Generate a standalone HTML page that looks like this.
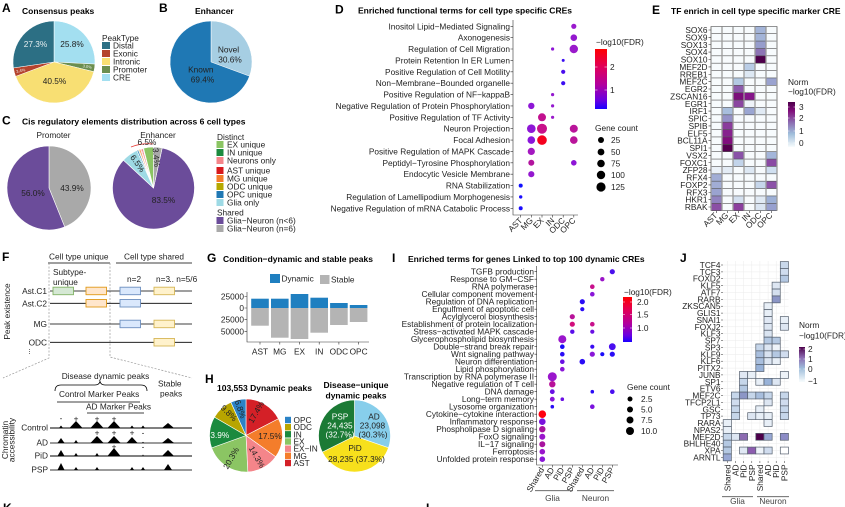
<!DOCTYPE html>
<html><head><meta charset="utf-8"><style>
html,body{margin:0;padding:0;background:#fff;}
svg{display:block}
text{font-family:"Liberation Sans",Arial,sans-serif;font-size:8.3px;fill:#222}
.t{font-weight:bold;font-size:8.5px;fill:#000}
.p{font-weight:bold;font-size:12px;fill:#000}
.e{text-anchor:end}
.m{text-anchor:middle}
.g{fill:#444}
.ax{stroke:#333;stroke-width:0.6;fill:none}
</style></head><body>
<svg width="845" height="507" viewBox="0 0 845 507" xmlns="http://www.w3.org/2000/svg">
<defs>
<linearGradient id="gD" x1="0" y1="0" x2="0" y2="1">
<stop offset="0" stop-color="#ff0000"/><stop offset="0.3" stop-color="#e0005a"/><stop offset="0.6" stop-color="#b0009f"/><stop offset="0.85" stop-color="#6a00e0"/><stop offset="1" stop-color="#1a00ff"/>
</linearGradient>
<linearGradient id="gE" x1="0" y1="0" x2="0" y2="1">
<stop offset="0" stop-color="#4d004b"/><stop offset="0.2" stop-color="#810f7c"/><stop offset="0.45" stop-color="#8c6bb1"/><stop offset="0.7" stop-color="#9ebcda"/><stop offset="1" stop-color="#f7fcfd"/>
</linearGradient>
<linearGradient id="gJ" x1="0" y1="0" x2="0" y2="1">
<stop offset="0" stop-color="#4d004b"/><stop offset="0.3" stop-color="#8c6bb1"/><stop offset="0.6" stop-color="#9ebcda"/><stop offset="1" stop-color="#f7fcfd"/>
</linearGradient>
</defs>

<!-- ===== Panel A ===== -->
<text class="p" x="2" y="12">A</text>
<text class="t" x="22" y="14">Consensus peaks</text>
<g stroke="#fff" stroke-width="0.5">
<path d="M54,62 L54,21 A41,41 0 0 1 94.95,64.07 Z" fill="#a3dff0"/>
<path d="M54,62 L94.95,64.07 A41,41 0 0 1 93.83,71.71 Z" fill="#6b8e4e"/>
<path d="M54,62 L93.83,71.71 A41,41 0 0 1 15.60,76.36 Z" fill="#f8df73"/>
<path d="M54,62 L15.60,76.36 A41,41 0 0 1 13.43,67.92 Z" fill="#b5432c"/>
<path d="M54,62 L13.43,67.92 A41,41 0 0 1 54,21 Z" fill="#2c6f84"/>
</g>
<text x="35.5" y="47" class="m" style="fill:#e6eef0">27.3%</text>
<text x="72" y="47" class="m">25.8%</text>
<text x="54.5" y="84" class="m">40.5%</text>
<text x="21" y="72" class="m" style="font-size:4px;fill:#eee" transform="rotate(-12 21 72)">3.4%</text>
<text x="87" y="68" class="m" style="font-size:4px;fill:#eee" transform="rotate(10 87 68)">3.0%</text>
<text x="102" y="41">PeakType</text>
<rect x="102" y="42" width="8" height="7" fill="#2c6f84"/><text x="113" y="48.5">Distal</text>
<rect x="102" y="50" width="8" height="7" fill="#b5432c"/><text x="113" y="56.5">Exonic</text>
<rect x="102" y="58" width="8" height="7" fill="#f8df73"/><text x="113" y="64.5">Intronic</text>
<rect x="102" y="66" width="8" height="7" fill="#6b8e4e"/><text x="113" y="72.5">Promoter</text>
<rect x="102" y="74" width="8" height="7" fill="#a3dff0"/><text x="113" y="80.5">CRE</text>

<!-- ===== Panel B ===== -->
<text class="p" x="159" y="12">B</text>
<text class="t" x="195" y="14">Enhancer</text>
<path d="M211,62 L211,21 A41,41 0 0 1 249.48,76.16 Z" fill="#a6cee3" stroke="#fff" stroke-width="0.5"/>
<path d="M211,62 L249.48,76.16 A41,41 0 1 1 211,21 Z" fill="#1f78b4" stroke="#fff" stroke-width="0.5"/>
<text x="228.5" y="52.3" class="m">Novel</text>
<text x="230" y="62.5" class="m">30.6%</text>
<text x="200.8" y="72.3" class="m">Known</text>
<text x="202.5" y="82.5" class="m">69.4%</text>

<!-- ===== Panel C ===== -->
<text class="p" x="2" y="124.5">C</text>
<text class="t" x="22" y="124.5">Cis regulatory elements distribution across 6 cell types</text>
<text x="53.5" y="138" class="m">Promoter</text>
<g stroke="#fff" stroke-width="0.6">
<path d="M49,188 L49,146 A42,42 0 0 1 64.71,226.95 Z" fill="#a9a9a9"/>
<path d="M49,188 L64.71,226.95 A42,42 0 1 1 49,146 Z" fill="#6b4c9a"/>
</g>
<text x="33" y="196" class="m">56.0%</text>
<text x="72" y="191" class="m">43.9%</text>
<text x="158" y="138" class="m">Enhancer</text>
<g stroke="#fff" stroke-width="0.6">
<path d="M153.5,188 L162.16,147.93 A41,41 0 1 1 123.42,160.14 Z" fill="#6b4c9a"/>
<path d="M153.5,188 L123.42,160.14 A41,41 0 0 1 136.95,150.49 Z" fill="#9edae5"/>
<path d="M153.5,188 L136.95,150.49 A41,41 0 0 1 138.27,149.93 Z" fill="#1f78b4"/>
<path d="M153.5,188 L138.27,149.93 A41,41 0 0 1 139.07,149.62 Z" fill="#b5a800"/>
<path d="M153.5,188 L139.07,149.62 A41,41 0 0 1 140.42,149.14 Z" fill="#f47d2b"/>
<path d="M153.5,188 L140.42,149.14 A41,41 0 0 1 141.24,148.88 Z" fill="#d7191c"/>
<path d="M153.5,188 L141.24,148.88 A41,41 0 0 1 142.89,148.40 Z" fill="#f4858a"/>
<path d="M153.5,188 L142.89,148.40 A41,41 0 0 1 143.58,148.22 Z" fill="#1b8a3e"/>
<path d="M153.5,188 L143.58,148.22 A41,41 0 0 1 153.5,147 Z" fill="#8bc563"/>
<path d="M153.5,188 L153.5,147 A41,41 0 0 1 162.16,147.93 Z" fill="#a9a9a9"/>
</g>
<path d="M131,147 A44,44 0 0 1 153,144" fill="none" stroke="#e8413c" stroke-width="0.8"/>
<text x="137.5" y="145">6.5%</text>
<text x="137" y="166" class="m" transform="rotate(55 137 164)">6.5%</text>
<text x="156" y="160" class="m" transform="rotate(85 156 157.5)">3.4%</text>
<text x="163.5" y="203" class="m">83.5%</text>
<text x="217" y="140">Distinct</text>
<rect x="216.5" y="141" width="7" height="7" fill="#8bc563"/><text x="227" y="147.3">EX unique</text>
<rect x="216.5" y="149" width="7" height="7" fill="#1b8a3e"/><text x="227" y="155.5">IN unique</text>
<rect x="216.5" y="157" width="7" height="7" fill="#f4858a"/><text x="227" y="163.5">Neurons only</text>
<rect x="216.5" y="167" width="7" height="7" fill="#d7191c"/><text x="227" y="173.5">AST unique</text>
<rect x="216.5" y="175" width="7" height="7" fill="#f47d2b"/><text x="227" y="181.5">MG unique</text>
<rect x="216.5" y="183" width="7" height="7" fill="#b5a800"/><text x="227" y="189.5">ODC unique</text>
<rect x="216.5" y="191" width="7" height="7" fill="#1f78b4"/><text x="227" y="197.5">OPC unique</text>
<rect x="216.5" y="199" width="7" height="7" fill="#9edae5"/><text x="227" y="205.5">Glia only</text>
<text x="217" y="215.7">Shared</text>
<rect x="216.5" y="217" width="7" height="7" fill="#6b4c9a"/><text x="227" y="223.5">Glia−Neuron (n&lt;6)</text>
<rect x="216.5" y="225" width="7" height="7" fill="#a9a9a9"/><text x="227" y="231.5">Glia−Neuron (n=6)</text>

<!-- ===== Panel D ===== -->
<text class="p" x="335" y="13.5">D</text>
<text class="t" x="358" y="13.5">Enriched functional terms for cell type specific CREs</text>
<g class="g">
<text class="e" x="510" y="29.3">Inositol Lipid−Mediated Signaling</text>
<text class="e" x="510" y="40.7">Axonogenesis</text>
<text class="e" x="510" y="52">Regulation of Cell Migration</text>
<text class="e" x="510" y="63.4">Protein Retention In ER Lumen</text>
<text class="e" x="510" y="74.8">Positive Regulation of Cell Motility</text>
<text class="e" x="510" y="86.2">Non−Membrane−Bounded organelle</text>
<text class="e" x="510" y="97.6">Positive Regulation of NF−kappaB</text>
<text class="e" x="510" y="108.9">Negative Regulation of Protein Phosphorylation</text>
<text class="e" x="510" y="120.3">Positive Regulation of TF Activity</text>
<text class="e" x="510" y="131.7">Neuron Projection</text>
<text class="e" x="510" y="143.1">Focal Adhesion</text>
<text class="e" x="510" y="154.4">Positive Regulation of MAPK Cascade</text>
<text class="e" x="510" y="165.8">Peptidyl−Tyrosine Phosphorylation</text>
<text class="e" x="510" y="177.2">Endocytic Vesicle Membrane</text>
<text class="e" x="510" y="188.6">RNA Stabilization</text>
<text class="e" x="510" y="199.9">Regulation of Lamellipodium Morphogenesis</text>
<text class="e" x="510" y="211.3">Negative Regulation of mRNA Catabolic Process</text>
</g>
<path class="ax" d="M513,20 V215 H578 M510.5,26.3H513 M510.5,37.7H513 M510.5,49H513 M510.5,60.4H513 M510.5,71.8H513 M510.5,83.2H513 M510.5,94.6H513 M510.5,105.9H513 M510.5,117.3H513 M510.5,128.7H513 M510.5,140.1H513 M510.5,151.4H513 M510.5,162.8H513 M510.5,174.2H513 M510.5,185.6H513 M510.5,196.9H513 M510.5,208.3H513 M520.7,215V217.5 M531.3,215V217.5 M542,215V217.5 M552.6,215V217.5 M563.2,215V217.5 M573.8,215V217.5"/>
<g class="g">
<text class="e" x="523" y="221" transform="rotate(-45 523 221)">AST</text>
<text class="e" x="533.6" y="221" transform="rotate(-45 533.6 221)">MG</text>
<text class="e" x="544.3" y="221" transform="rotate(-45 544.3 221)">EX</text>
<text class="e" x="554.9" y="221" transform="rotate(-45 554.9 221)">IN</text>
<text class="e" x="565.5" y="221" transform="rotate(-45 565.5 221)">ODC</text>
<text class="e" x="576.1" y="221" transform="rotate(-45 576.1 221)">OPC</text>
</g>
<circle cx="573.8" cy="26.3" r="2.6" fill="#9a1acd"/>
<circle cx="573.8" cy="37.7" r="3.3" fill="#9418cf"/>
<circle cx="552.6" cy="49" r="1.6" fill="#8e16d6"/>
<circle cx="573.8" cy="49" r="4.2" fill="#9a1acb"/>
<circle cx="563.2" cy="60.4" r="1.5" fill="#3a0df2"/>
<circle cx="563.2" cy="71.8" r="2.1" fill="#4a0ded"/>
<circle cx="563.2" cy="83.2" r="2.1" fill="#3c0df2"/>
<circle cx="552.6" cy="94.6" r="1.6" fill="#9418cf"/>
<circle cx="531.3" cy="105.9" r="3.2" fill="#8e16d6"/>
<circle cx="552.6" cy="105.9" r="1.6" fill="#9418cf"/>
<circle cx="542" cy="117.3" r="4" fill="#c2108f"/>
<circle cx="552.6" cy="117.3" r="1.6" fill="#9a1acb"/>
<circle cx="531.3" cy="128.7" r="4.3" fill="#8e16d6"/>
<circle cx="542" cy="128.7" r="5" fill="#c8108a"/>
<circle cx="573.8" cy="128.7" r="4" fill="#b9149a"/>
<circle cx="531.3" cy="140.1" r="3.8" fill="#8a15da"/>
<circle cx="542" cy="140.1" r="4.8" fill="#f5001e"/>
<circle cx="573.8" cy="140.1" r="3.8" fill="#b9149a"/>
<circle cx="531.3" cy="151.4" r="3.6" fill="#a418c0"/>
<circle cx="531.3" cy="162.8" r="3" fill="#b2149e"/>
<circle cx="573.8" cy="162.8" r="2.8" fill="#8e16d6"/>
<circle cx="531.3" cy="174.2" r="3.1" fill="#9418cf"/>
<circle cx="520.7" cy="185.6" r="2" fill="#1010ff"/>
<circle cx="520.7" cy="196.9" r="1.7" fill="#1a0cff"/>
<circle cx="520.7" cy="208.3" r="2" fill="#1a0cff"/>
<text x="596" y="45">−log10(FDR)</text>
<rect x="595" y="49" width="12" height="60" fill="url(#gD)"/>
<path d="M595,67H597.5 M604.5,67H607 M595,90H597.5 M604.5,90H607" stroke="#fff" stroke-width="0.6"/>
<text x="610" y="70">2</text>
<text x="610" y="93">1</text>
<text x="595" y="131">Gene count</text>
<circle cx="601" cy="140" r="3" fill="#000"/><text x="611" y="143">25</text>
<circle cx="601" cy="152" r="3.4" fill="#000"/><text x="611" y="155">50</text>
<circle cx="601" cy="163.5" r="3.8" fill="#000"/><text x="611" y="166.5">75</text>
<circle cx="601" cy="175" r="4.2" fill="#000"/><text x="611" y="178">100</text>
<circle cx="601" cy="187" r="4.6" fill="#000"/><text x="611" y="190">125</text>

<!-- ===== Panel E ===== -->
<text class="p" x="652" y="14">E</text>
<text class="t" x="671" y="14">TF enrich in cell type specific marker CRE</text>
<g class="g">
<text class="e" x="707.5" y="33">SOX6</text>
<text class="e" x="707.5" y="40.4">SOX9</text>
<text class="e" x="707.5" y="47.8">SOX13</text>
<text class="e" x="707.5" y="55.1">SOX4</text>
<text class="e" x="707.5" y="62.5">SOX10</text>
<text class="e" x="707.5" y="69.9">MEF2D</text>
<text class="e" x="707.5" y="77.3">RREB1</text>
<text class="e" x="707.5" y="84.6">MEF2C</text>
<text class="e" x="707.5" y="92">EGR2</text>
<text class="e" x="707.5" y="99.4">ZSCAN16</text>
<text class="e" x="707.5" y="106.8">EGR1</text>
<text class="e" x="707.5" y="114.1">IRF1</text>
<text class="e" x="707.5" y="121.5">SPIC</text>
<text class="e" x="707.5" y="128.9">SPIB</text>
<text class="e" x="707.5" y="136.3">ELF5</text>
<text class="e" x="707.5" y="143.6">BCL11A</text>
<text class="e" x="707.5" y="151">SPI1</text>
<text class="e" x="707.5" y="158.4">VSX2</text>
<text class="e" x="707.5" y="165.8">FOXC1</text>
<text class="e" x="707.5" y="173.1">ZFP28</text>
<text class="e" x="707.5" y="180.5">RFX4</text>
<text class="e" x="707.5" y="187.9">FOXP2</text>
<text class="e" x="707.5" y="195.3">RFX3</text>
<text class="e" x="707.5" y="202.6">HKR1</text>
<text class="e" x="707.5" y="210">RBAK</text>
</g>
<rect x="711" y="26.3" width="66" height="184.4" fill="#f7fbfd"/>
<g>
<rect x="755" y="26.3" width="11" height="7.4" fill="#a3b4d8"/>
<rect x="755" y="33.68" width="11" height="7.4" fill="#a3b4d8"/>
<rect x="755" y="41.05" width="11" height="7.4" fill="#969dcc"/>
<rect x="755" y="48.43" width="11" height="7.4" fill="#8c74b5"/>
<rect x="755" y="55.8" width="11" height="7.4" fill="#4d004b"/>
<rect x="744" y="63.18" width="11" height="7.4" fill="#b9cde6"/>
<rect x="744" y="70.55" width="11" height="7.4" fill="#dde8f3"/>
<rect x="733" y="77.93" width="11" height="7.4" fill="#b3c9e3"/>
<rect x="766" y="77.93" width="11" height="7.4" fill="#9aa3d0"/>
<rect x="733" y="85.3" width="11" height="7.4" fill="#8c5aac"/>
<rect x="733" y="92.68" width="11" height="7.4" fill="#7b0e7a"/>
<rect x="744" y="92.68" width="11" height="7.4" fill="#85168a"/>
<rect x="733" y="100.05" width="11" height="7.4" fill="#8a46a0"/>
<rect x="744" y="100.05" width="11" height="7.4" fill="#eef3f9"/>
<rect x="722" y="107.43" width="11" height="7.4" fill="#a8bedd"/>
<rect x="744" y="107.43" width="11" height="7.4" fill="#9aa6d2"/>
<rect x="755" y="107.43" width="11" height="7.4" fill="#e0eaf4"/>
<rect x="722" y="114.8" width="11" height="7.4" fill="#9592c8"/>
<rect x="722" y="122.18" width="11" height="7.4" fill="#8a3c9c"/>
<rect x="722" y="129.55" width="11" height="7.4" fill="#86228e"/>
<rect x="722" y="136.93" width="11" height="7.4" fill="#800f7d"/>
<rect x="722" y="144.3" width="11" height="7.4" fill="#55004f"/>
<rect x="733" y="151.68" width="11" height="7.4" fill="#8a52a8"/>
<rect x="766" y="151.68" width="11" height="7.4" fill="#a4b6da"/>
<rect x="733" y="159.05" width="11" height="7.4" fill="#c2d4ea"/>
<rect x="766" y="159.05" width="11" height="7.4" fill="#8a4aa4"/>
<rect x="711" y="166.43" width="11" height="7.4" fill="#eaf1f8"/>
<rect x="722" y="166.43" width="11" height="7.4" fill="#e3ecf5"/>
<rect x="744" y="166.43" width="11" height="7.4" fill="#dde8f3"/>
<rect x="766" y="166.43" width="11" height="7.4" fill="#cfdff0"/>
<rect x="711" y="173.8" width="11" height="7.4" fill="#a1add5"/>
<rect x="711" y="181.18" width="11" height="7.4" fill="#a1add5"/>
<rect x="755" y="181.18" width="11" height="7.4" fill="#c6d6ea"/>
<rect x="766" y="181.18" width="11" height="7.4" fill="#8c52a8"/>
<rect x="711" y="188.55" width="11" height="7.4" fill="#9aa3d0"/>
<rect x="711" y="195.93" width="11" height="7.4" fill="#9183c0"/>
<rect x="733" y="195.93" width="11" height="7.4" fill="#d3e0ef"/>
<rect x="755" y="195.93" width="11" height="7.4" fill="#e0eaf4"/>
<rect x="766" y="195.93" width="11" height="7.4" fill="#9db0d6"/>
<rect x="711" y="203.3" width="11" height="7.4" fill="#8b4fa5"/>
<rect x="733" y="203.3" width="11" height="7.4" fill="#8b3f9e"/>
<rect x="755" y="203.3" width="11" height="7.4" fill="#dae5f2"/>
<rect x="766" y="203.3" width="11" height="7.4" fill="#97a0cf"/>
</g>
<path d="M711,26.3H777 M711,33.68H777 M711,41.05H777 M711,48.43H777 M711,55.8H777 M711,63.18H777 M711,70.55H777 M711,77.93H777 M711,85.3H777 M711,92.68H777 M711,100.05H777 M711,107.43H777 M711,114.8H777 M711,122.18H777 M711,129.55H777 M711,136.93H777 M711,144.3H777 M711,151.68H777 M711,159.05H777 M711,166.43H777 M711,173.8H777 M711,181.18H777 M711,188.55H777 M711,195.93H777 M711,203.3H777 M711,210.68H777" stroke="#555" stroke-width="0.6"/>
<path d="M711,26.3V210.7 M722,26.3V210.7 M733,26.3V210.7 M744,26.3V210.7 M755,26.3V210.7 M766,26.3V210.7 M777,26.3V210.7" stroke="#9a9a9a" stroke-width="1.3"/>
<path d="M708.5,30H711 M708.5,37.4H711 M708.5,44.75H711 M708.5,52.1H711 M708.5,59.5H711 M708.5,66.9H711 M708.5,74.25H711 M708.5,81.6H711 M708.5,89H711 M708.5,96.4H711 M708.5,103.75H711 M708.5,111.1H711 M708.5,118.5H711 M708.5,125.9H711 M708.5,133.25H711 M708.5,140.6H711 M708.5,148H711 M708.5,155.4H711 M708.5,162.75H711 M708.5,170.1H711 M708.5,177.5H711 M708.5,184.9H711 M708.5,192.25H711 M708.5,199.6H711 M708.5,207H711 M716.5,210.7V213 M727.5,210.7V213 M738.5,210.7V213 M749.5,210.7V213 M760.5,210.7V213 M771.5,210.7V213" stroke="#333" stroke-width="0.6"/>
<g class="g">
<text class="e" x="718" y="216" transform="rotate(-45 718 216)">AST</text>
<text class="e" x="729" y="216" transform="rotate(-45 729 216)">MG</text>
<text class="e" x="740" y="216" transform="rotate(-45 740 216)">EX</text>
<text class="e" x="751" y="216" transform="rotate(-45 751 216)">IN</text>
<text class="e" x="762" y="216" transform="rotate(-45 762 216)">ODC</text>
<text class="e" x="773" y="216" transform="rotate(-45 773 216)">OPC</text>
</g>
<text x="788" y="85">Norm</text>
<text x="788" y="94.5">−log10(FDR)</text>
<rect x="788" y="102" width="7" height="45" fill="url(#gE)"/>
<path d="M788,107H789.5 M793.5,107H795 M788,118H789.5 M793.5,118H795 M788,131H789.5 M793.5,131H795 M788,143H789.5 M793.5,143H795" stroke="#fff" stroke-width="0.6"/>
<text x="799" y="110">3</text>
<text x="799" y="121">2</text>
<text x="799" y="134">1</text>
<text x="799" y="146">0</text>

<!-- ===== Panel F ===== -->
<text class="p" x="2" y="261">F</text>
<text x="49" y="259.5">Cell type unique</text>
<text x="124" y="259.5">Cell type shared</text>
<path d="M48,263H110 M116,263H192" stroke="#000" stroke-width="0.8"/>
<path d="M49,263V358 L3,378 M110,263V357 L192,378" stroke="#999" stroke-width="0.7" stroke-dasharray="2,1.5" fill="none"/>
<text x="53" y="275">Subtype-</text>
<text x="53" y="285">unique</text>
<text x="127" y="282">n=2</text>
<text x="156" y="282">n=3</text>
<text x="167" y="282">... n=5/6</text>
<text x="10" y="311.5" class="m" transform="rotate(-90 10 311.5)">Peak existence</text>
<path d="M50,291H192 M50,303.3H192 M50,324H192 M50,342.3H192" stroke="#000" stroke-width="0.8"/>
<text class="e" x="47" y="294">Ast.C1</text>
<text class="e" x="47" y="306.3">Ast.C2</text>
<text class="e" x="47" y="327">MG</text>
<text class="e" x="47" y="345.3">ODC</text>
<circle cx="29.5" cy="349.5" r="0.45" fill="#333"/><circle cx="29.5" cy="351.5" r="0.45" fill="#333"/><circle cx="29.5" cy="353.5" r="0.45" fill="#333"/>
<g stroke-width="0.9">
<rect x="53" y="287.2" width="20.5" height="7.5" fill="#d5e8d4" stroke="#82b366"/>
<rect x="86" y="287.2" width="20.5" height="7.5" fill="#ffe6cc" stroke="#e09a1a"/>
<rect x="120" y="287.2" width="20.5" height="7.5" fill="#dae8fc" stroke="#6c8ebf"/>
<rect x="154" y="287.2" width="20.5" height="7.5" fill="#fff2cc" stroke="#d6b656"/>
<rect x="86" y="299.5" width="20.5" height="7.5" fill="#ffe6cc" stroke="#e09a1a"/>
<rect x="120" y="299.5" width="20.5" height="7.5" fill="#dae8fc" stroke="#6c8ebf"/>
<rect x="120" y="320.2" width="20.5" height="7.5" fill="#dae8fc" stroke="#6c8ebf"/>
<rect x="154" y="320.2" width="20.5" height="7.5" fill="#fff2cc" stroke="#d6b656"/>
<rect x="154" y="338.5" width="20.5" height="7.5" fill="#fff2cc" stroke="#d6b656"/>
</g>
<text x="105.5" y="379" class="m">Disease dynamic peaks</text>
<path d="M55,391 Q55,385 61,385 L95,385 Q99,385 100,381.5 Q101,385 105,385 L141,385 Q147,385 147,391" fill="none" stroke="#000" stroke-width="0.8"/>
<text x="158" y="386.5">Stable</text>
<text x="160" y="396.5">peaks</text>
<text x="59" y="397">Control Marker Peaks</text>
<path d="M57,402H140" stroke="#000" stroke-width="0.8"/>
<text x="86" y="409.5">AD Marker Peaks</text>
<path d="M87,413H144" stroke="#000" stroke-width="0.8"/>
<text x="8" y="440" class="m" transform="rotate(-90 8 440)">Chromatin</text>
<text x="14.5" y="440" class="m" transform="rotate(-90 14.5 440)">accessibility</text>
<text class="e" x="48" y="430.5">Control</text>
<text class="e" x="48" y="445.5">AD</text>
<text class="e" x="48" y="458.5">PiD</text>
<text class="e" x="48" y="472.5">PSP</text>
<path d="M50,428H192 M50,456H192" stroke="#000" stroke-width="0.9"/>
<path d="M50,443H192 M50,470H192" stroke="#7a7a7a" stroke-width="1.4"/>
<g fill="#000">
<path d="M59,428L61,425.5L63,428Z M69.5,428L76,421L82.5,428Z M90.5,428L97,421L103.5,428Z M107.5,428L114,421L120.5,428Z M130,428L132,425.5L134,428Z M141,428L143,425.5L145,428Z M162,428L168,423L174,428Z"/>
<path d="M57.5,443L61,438L64.5,443Z M74,443L76,440L78,443Z M90.5,443L97,436L103.5,443Z M107.5,443L114,436L120.5,443Z M126.5,443L132,437L137.5,443Z M142,443L143,441.8L144,443Z M162,443L168,438L174,443Z"/>
<path d="M57.5,456L61,450L64.5,456Z M74,456L76,453L78,456Z M95,456L97,453L99,456Z M107.5,456L114,448L120.5,456Z M142,456L143,454.5L144,456Z M162,456L168,450L174,456Z"/>
<path d="M57.5,470L61,463L64.5,470Z M74,470L76,467L78,470Z M95,470L97,467L99,470Z M130,470L132,467L134,470Z M141,470L143,467L145,470Z M164,470L168,464L172,470Z"/>
</g>
<text x="61" y="421" class="m">-</text>
<text x="76" y="421.3" class="m">+</text>
<text x="97" y="421.3" class="m">+</text>
<text x="114" y="421.3" class="m">+</text>
<text x="97" y="435.7" class="m">+</text>
<text x="114" y="435.7" class="m">+</text>
<text x="132" y="435.7" class="m">+</text>
<text x="143" y="435.7" class="m">-</text>
<text x="114" y="449.7" class="m">+</text>
<text x="143" y="449.7" class="m">-</text>
<text class="p" x="3" y="512">K</text>

<!-- ===== Panel G ===== -->
<text class="p" x="207" y="262">G</text>
<text class="t" x="223" y="262">Condition−dynamic and stable peaks</text>
<rect x="270" y="274" width="10" height="9" fill="#1f7fc0"/>
<text x="281.5" y="281.5">Dynamic</text>
<rect x="320" y="275" width="9.5" height="9" fill="#b4b4b4"/>
<text x="331" y="282.5">Stable</text>
<g fill="#1f7fc0">
<rect x="251.2" y="298.7" width="17.6" height="9.3"/>
<rect x="271" y="298.7" width="17.6" height="9.3"/>
<rect x="290.7" y="294" width="17.6" height="14"/>
<rect x="310.4" y="297.7" width="17.6" height="10.3"/>
<rect x="330.1" y="303" width="17.6" height="5"/>
<rect x="349.8" y="305" width="17.6" height="3"/>
</g>
<g fill="#b4b4b4">
<rect x="251.2" y="308" width="17.6" height="17.7"/>
<rect x="271" y="308" width="17.6" height="29.7"/>
<rect x="290.7" y="308" width="17.6" height="31"/>
<rect x="310.4" y="308" width="17.6" height="24.7"/>
<rect x="330.1" y="308" width="17.6" height="17"/>
<rect x="349.8" y="308" width="17.6" height="14"/>
</g>
<path class="ax" d="M247,292V342H369 M244.5,296.5H247 M244.5,308H247 M244.5,319.7H247 M244.5,331.4H247 M260,342V344.5 M279.8,342V344.5 M299.5,342V344.5 M319.2,342V344.5 M338.9,342V344.5 M358.6,342V344.5"/>
<g class="g">
<text class="e" x="244" y="299.5">25000</text>
<text class="e" x="244" y="311">0</text>
<text class="e" x="244" y="322.7">25000</text>
<text class="e" x="244" y="334.4">50000</text>
<text class="m" x="260" y="354.5">AST</text>
<text class="m" x="279.8" y="354.5">MG</text>
<text class="m" x="299.5" y="354.5">EX</text>
<text class="m" x="319.2" y="354.5">IN</text>
<text class="m" x="338.9" y="354.5">ODC</text>
<text class="m" x="358.6" y="354.5">OPC</text>
</g>

<!-- ===== Panel H ===== -->
<text class="p" x="205" y="383">H</text>
<text class="t" x="217" y="391">103,553 Dynamic peaks</text>
<g stroke="#fff" stroke-width="0.6">
<path d="M246,435.5 L246,399 A36.5,36.5 0 0 1 278.42,418.73 Z" fill="#d42027"/>
<path d="M246,435.5 L278.42,418.73 A36.5,36.5 0 0 1 275.66,456.77 Z" fill="#f47d2b"/>
<path d="M246,435.5 L275.66,456.77 A36.5,36.5 0 0 1 247.83,471.95 Z" fill="#f4858a"/>
<path d="M246,435.5 L247.83,471.95 A36.5,36.5 0 0 1 211.66,447.86 Z" fill="#8bc563"/>
<path d="M246,435.5 L211.66,447.86 A36.5,36.5 0 0 1 214.47,417.12 Z" fill="#1b8a3e"/>
<path d="M246,435.5 L214.47,417.12 A36.5,36.5 0 0 1 230.88,402.28 Z" fill="#b8a500"/>
<path d="M246,435.5 L230.88,402.28 A36.5,36.5 0 0 1 246,399 Z" fill="#2b83c6"/>
</g>
<text x="256" y="415" class="m" transform="rotate(-60 256 412)">17.4%</text>
<text x="270" y="439" class="m">17.5%</text>
<text x="257" y="460" class="m" transform="rotate(60 257 457)">14.3%</text>
<text x="231" y="461" class="m" transform="rotate(-60 231 458)">20.3%</text>
<text x="217.5" y="438" class="m" style="fill:#fff">13.9%</text>
<text x="229" y="416" class="m" transform="rotate(45 229 413)">9.8%</text>
<text x="240.5" y="412" class="m" transform="rotate(70 240.5 409)">6.8%</text>
<rect x="285" y="416.8" width="6" height="6.4" fill="#2b83c6"/><text x="293.5" y="423">OPC</text>
<rect x="285" y="424" width="6" height="6.4" fill="#b8a500"/><text x="293.5" y="430.2">ODC</text>
<rect x="285" y="431.1" width="6" height="6.4" fill="#1b8a3e"/><text x="293.5" y="437.3">IN</text>
<rect x="285" y="438.3" width="6" height="6.4" fill="#8bc563"/><text x="293.5" y="444.5">EX</text>
<rect x="285" y="445.5" width="6" height="6.4" fill="#f4858a"/><text x="293.5" y="451.7">EX−IN</text>
<rect x="285" y="452.6" width="6" height="6.4" fill="#f47d2b"/><text x="293.5" y="458.8">MG</text>
<rect x="285" y="459.8" width="6" height="6.4" fill="#d42027"/><text x="293.5" y="466">AST</text>
<text class="t m" x="356" y="388">Disease−unique</text>
<text class="t m" x="356" y="398.5">dynamic peaks</text>
<g stroke="#fff" stroke-width="0.6">
<path d="M354.5,436 L354.5,400 A36,36 0 0 1 388.52,447.77 Z" fill="#87ceeb"/>
<path d="M354.5,436 L388.52,447.77 A36,36 0 0 1 322.32,452.14 Z" fill="#f7e01c"/>
<path d="M354.5,436 L322.32,452.14 A36,36 0 0 1 354.5,400 Z" fill="#1b7a35"/>
</g>
<g style="fill:#fff">
<text class="m" x="340" y="419.5" style="fill:#fff">PSP</text>
<text class="m" x="340" y="428.5" style="fill:#fff">24,435</text>
<text class="m" x="340" y="437.5" style="fill:#fff">(32.7%)</text>
</g>
<text class="m" x="374" y="419.5">AD</text>
<text class="m" x="372.5" y="428.5">23,098</text>
<text class="m" x="373" y="437.5">(30.3%)</text>
<text class="m" x="355" y="451">PiD</text>
<text class="m" x="356.5" y="462">28,235 (37.3%)</text>

<!-- ===== Panel I ===== -->
<text class="p" x="392" y="262">I</text>
<text class="t" x="408" y="262">Enriched terms for genes Linked to top 100 dynamic CREs</text>
<g class="g">
<text class="e" x="534" y="274.7">TGFB production</text>
<text class="e" x="534" y="282.2">Response to GM−CSF</text>
<text class="e" x="534" y="289.7">RNA polymerase</text>
<text class="e" x="534" y="297.2">Cellular component movement</text>
<text class="e" x="534" y="304.7">Regulation of DNA replication</text>
<text class="e" x="534" y="312.2">Engulfment of apoptotic cell</text>
<text class="e" x="534" y="319.7">Acylglycerol biosynthesis</text>
<text class="e" x="534" y="327.2">Establishment of protein localization</text>
<text class="e" x="534" y="334.7">Stress−activated MAPK cascade</text>
<text class="e" x="534" y="342.2">Glycerophospholipid biosynthesis</text>
<text class="e" x="534" y="349.7">Double−strand break repair</text>
<text class="e" x="534" y="357.2">Wnt signaling pathway</text>
<text class="e" x="534" y="364.7">Neuron differentiation</text>
<text class="e" x="534" y="372.2">Lipid phosphorylation</text>
<text class="e" x="534" y="379.7">Transcription by RNA polymerase II</text>
<text class="e" x="534" y="387.2">Negative regulation of T cell</text>
<text class="e" x="534" y="394.7">DNA damage</text>
<text class="e" x="534" y="402.2">Long−term memory</text>
<text class="e" x="534" y="409.7">Lysosome organization</text>
<text class="e" x="534" y="417.2">Cytokine−cytokine interaction</text>
<text class="e" x="534" y="424.7">Inflammatory response</text>
<text class="e" x="534" y="432.2">Phospholipase D signaling</text>
<text class="e" x="534" y="439.7">FoxO signaling</text>
<text class="e" x="534" y="447.2">IL−17 signaling</text>
<text class="e" x="534" y="454.7">Ferroptosis</text>
<text class="e" x="534" y="462.2">Unfolded protein response</text>
</g>
<path class="ax" d="M536.7,266V465H618 M534.5,271.7H536.7 M534.5,279.2H536.7 M534.5,286.7H536.7 M534.5,294.2H536.7 M534.5,301.7H536.7 M534.5,309.2H536.7 M534.5,316.7H536.7 M534.5,324.2H536.7 M534.5,331.7H536.7 M534.5,339.2H536.7 M534.5,346.7H536.7 M534.5,354.2H536.7 M534.5,361.7H536.7 M534.5,369.2H536.7 M534.5,376.7H536.7 M534.5,384.2H536.7 M534.5,391.7H536.7 M534.5,399.2H536.7 M534.5,406.7H536.7 M534.5,414.2H536.7 M534.5,421.7H536.7 M534.5,429.2H536.7 M534.5,436.7H536.7 M534.5,444.2H536.7 M534.5,451.7H536.7 M534.5,459.2H536.7 M542.3,465V467.5 M552.3,465V467.5 M562.3,465V467.5 M572.3,465V467.5 M582.3,465V467.5 M592.3,465V467.5 M602.3,465V467.5 M612.3,465V467.5"/>
<g class="g">
<text class="e" x="544.5" y="469.5" transform="rotate(-60 544.5 469.5)">Shared</text>
<text class="e" x="554.5" y="469.5" transform="rotate(-60 554.5 469.5)">AD</text>
<text class="e" x="564.5" y="469.5" transform="rotate(-60 564.5 469.5)">PiD</text>
<text class="e" x="574.5" y="469.5" transform="rotate(-60 574.5 469.5)">PSP</text>
<text class="e" x="584.5" y="469.5" transform="rotate(-60 584.5 469.5)">Shared</text>
<text class="e" x="594.5" y="469.5" transform="rotate(-60 594.5 469.5)">AD</text>
<text class="e" x="604.5" y="469.5" transform="rotate(-60 604.5 469.5)">PiD</text>
<text class="e" x="614.5" y="469.5" transform="rotate(-60 614.5 469.5)">PSP</text>
</g>
<path d="M535,490.7H573 M577,490.7H614" stroke="#555" stroke-width="0.8"/>
<text class="m g" x="552.5" y="501">Glia</text>
<text class="m g" x="595.5" y="501">Neuron</text>
<circle cx="612.3" cy="271.7" r="2.6" fill="#4a10ec"/>
<circle cx="602.3" cy="279.2" r="2.2" fill="#9a14c8"/>
<circle cx="592.3" cy="286.7" r="2.3" fill="#c8108c"/>
<circle cx="592.3" cy="294.2" r="2.3" fill="#8a16d8"/>
<circle cx="582.3" cy="301.7" r="2.6" fill="#2a0cf6"/>
<circle cx="582.3" cy="309.2" r="2.1" fill="#2a0cf6"/>
<circle cx="572.3" cy="316.7" r="2.6" fill="#b8129a"/>
<circle cx="572.3" cy="324.2" r="2.6" fill="#d20e7c"/>
<circle cx="592.3" cy="324.2" r="2.3" fill="#c8108c"/>
<circle cx="572.3" cy="331.7" r="2.2" fill="#5a0eea"/>
<circle cx="592.3" cy="331.7" r="2.1" fill="#6a10e4"/>
<circle cx="562.3" cy="339.2" r="4" fill="#9a16cc"/>
<circle cx="562.3" cy="346.7" r="2.3" fill="#1a0cfa"/>
<circle cx="592.3" cy="346.7" r="2.1" fill="#3a0cf2"/>
<circle cx="612.3" cy="346.7" r="3.4" fill="#4a0ef0"/>
<circle cx="562.3" cy="354.2" r="2.3" fill="#2a0cf6"/>
<circle cx="592.3" cy="354.2" r="2.6" fill="#8a16d8"/>
<circle cx="602.3" cy="354.2" r="2.1" fill="#1a0cfa"/>
<circle cx="612.3" cy="354.2" r="2.6" fill="#2a0cf6"/>
<circle cx="562.3" cy="361.7" r="2.3" fill="#6a10e4"/>
<circle cx="582.3" cy="361.7" r="2.8" fill="#2a0cf6"/>
<circle cx="562.3" cy="369.2" r="2.3" fill="#8a16d8"/>
<circle cx="552.3" cy="376.7" r="4.5" fill="#9a16cc"/>
<circle cx="552.3" cy="384.2" r="3.2" fill="#b8129a"/>
<circle cx="552.3" cy="391.7" r="2.4" fill="#6a10e4"/>
<circle cx="592.3" cy="391.7" r="1.8" fill="#2a0cf6"/>
<circle cx="612.3" cy="391.7" r="2.3" fill="#4a0ef0"/>
<circle cx="552.3" cy="399.2" r="2.4" fill="#8a16d8"/>
<circle cx="562.3" cy="399.2" r="1.8" fill="#6a10e4"/>
<circle cx="552.3" cy="406.7" r="1.8" fill="#2a0cf6"/>
<circle cx="592.3" cy="406.7" r="2.3" fill="#7a12de"/>
<circle cx="542.3" cy="414.2" r="3.8" fill="#ff0010"/>
<circle cx="542.3" cy="421.7" r="3.3" fill="#7a12de"/>
<circle cx="542.3" cy="429.2" r="3.2" fill="#a8149e"/>
<circle cx="542.3" cy="436.7" r="3" fill="#9a16cc"/>
<circle cx="542.3" cy="444.2" r="3" fill="#a8149e"/>
<circle cx="542.3" cy="451.7" r="2.8" fill="#9a16cc"/>
<circle cx="542.3" cy="459.2" r="2.8" fill="#8a16d8"/>
<text x="624" y="295">−log10(FDR)</text>
<rect x="623" y="297" width="9" height="45" fill="url(#gD)"/>
<path d="M623,302H625 M630,302H632 M623,314.5H625 M630,314.5H632 M623,328H625 M630,328H632" stroke="#fff" stroke-width="0.6"/>
<text x="637" y="305">2.0</text>
<text x="637" y="317.5">1.5</text>
<text x="637" y="331">1.0</text>
<text x="627" y="390">Gene count</text>
<circle cx="630" cy="399" r="2.5" fill="#000"/><text x="641" y="402">2.5</text>
<circle cx="630" cy="409.5" r="3" fill="#000"/><text x="641" y="412.5">5.0</text>
<circle cx="630" cy="420" r="3.5" fill="#000"/><text x="641" y="423">7.5</text>
<circle cx="630" cy="431" r="4" fill="#000"/><text x="641" y="434">10.0</text>
<text class="p" x="426" y="512">L</text>

<!-- ===== Panel J ===== -->
<text class="p" x="680" y="262">J</text>
<path d="M727.3,261V461 M735.5,261V461 M743.6,261V461 M751.8,261V461 M759.9,261V461 M768.1,261V461 M776.2,261V461 M784.4,261V461 M723,265H788.5 M723,271.9H788.5 M723,278.7H788.5 M723,285.6H788.5 M723,292.5H788.5 M723,299.4H788.5 M723,306.2H788.5 M723,313.1H788.5 M723,320H788.5 M723,326.8H788.5 M723,333.7H788.5 M723,340.6H788.5 M723,347.4H788.5 M723,354.3H788.5 M723,361.2H788.5 M723,368.1H788.5 M723,374.9H788.5 M723,381.8H788.5 M723,388.7H788.5 M723,395.5H788.5 M723,402.4H788.5 M723,409.3H788.5 M723,416.1H788.5 M723,423H788.5 M723,429.9H788.5 M723,436.8H788.5 M723,443.6H788.5 M723,450.5H788.5 M723,457.4H788.5" stroke="#ebebeb" stroke-width="0.5"/>
<g stroke="#56606e" stroke-width="0.7">
<rect x="780.3" y="261.57" width="8.15" height="6.87" fill="#c9d8eb"/>
<rect x="780.3" y="268.47" width="8.15" height="6.87" fill="#cfdcee"/>
<rect x="780.3" y="275.27" width="8.15" height="6.87" fill="#b4c8e2"/>
<rect x="772.1" y="282.17" width="8.15" height="6.87" fill="#dde6f2"/>
<rect x="772.1" y="289.07" width="8.15" height="6.87" fill="#d5e0ef"/>
<rect x="772.1" y="295.97" width="8.15" height="6.87" fill="#8c96c6"/>
<rect x="764" y="302.77" width="8.15" height="6.87" fill="#e8eff7"/>
<rect x="764" y="309.67" width="8.15" height="6.87" fill="#e8eff7"/>
<rect x="764" y="316.57" width="8.15" height="6.87" fill="#e0e8f4"/>
<rect x="780.3" y="316.57" width="8.15" height="6.87" fill="#e8eff7"/>
<rect x="764" y="323.37" width="8.15" height="6.87" fill="#dde6f2"/>
<rect x="780.3" y="323.37" width="8.15" height="6.87" fill="#dde6f2"/>
<rect x="764" y="330.27" width="8.15" height="6.87" fill="#dae4f1"/>
<rect x="764" y="337.17" width="8.15" height="6.87" fill="#b4c8e2"/>
<rect x="772.1" y="337.17" width="8.15" height="6.87" fill="#b4c8e2"/>
<rect x="755.8" y="343.97" width="8.15" height="6.87" fill="#c6d6ea"/>
<rect x="764" y="343.97" width="8.15" height="6.87" fill="#dde6f2"/>
<rect x="772.1" y="343.97" width="8.15" height="6.87" fill="#eef3f9"/>
<rect x="755.8" y="350.87" width="8.15" height="6.87" fill="#a8bedd"/>
<rect x="764" y="350.87" width="8.15" height="6.87" fill="#d8e2f0"/>
<rect x="772.1" y="350.87" width="8.15" height="6.87" fill="#b4c8e2"/>
<rect x="780.3" y="350.87" width="8.15" height="6.87" fill="#d0dcee"/>
<rect x="755.8" y="357.77" width="8.15" height="6.87" fill="#a8bedd"/>
<rect x="764" y="357.77" width="8.15" height="6.87" fill="#dde6f2"/>
<rect x="772.1" y="357.77" width="8.15" height="6.87" fill="#e8eff7"/>
<rect x="755.8" y="364.67" width="8.15" height="6.87" fill="#98b2d8"/>
<rect x="739.5" y="371.47" width="8.15" height="6.87" fill="#e0e8f4"/>
<rect x="747.7" y="371.47" width="8.15" height="6.87" fill="#e8eff7"/>
<rect x="780.3" y="371.47" width="8.15" height="6.87" fill="#eef3f9"/>
<rect x="739.5" y="378.37" width="8.15" height="6.87" fill="#c6d6ea"/>
<rect x="755.8" y="378.37" width="8.15" height="6.87" fill="#e8eff7"/>
<rect x="764" y="378.37" width="8.15" height="6.87" fill="#98b2d8"/>
<rect x="772.1" y="378.37" width="8.15" height="6.87" fill="#dde6f2"/>
<rect x="739.5" y="385.27" width="8.15" height="6.87" fill="#b4c8e2"/>
<rect x="731.4" y="392.07" width="8.15" height="6.87" fill="#c6d6ea"/>
<rect x="739.5" y="392.07" width="8.15" height="6.87" fill="#8c96c6"/>
<rect x="747.7" y="392.07" width="8.15" height="6.87" fill="#c6d6ea"/>
<rect x="755.8" y="392.07" width="8.15" height="6.87" fill="#a8bedd"/>
<rect x="764" y="392.07" width="8.15" height="6.87" fill="#c6d6ea"/>
<rect x="780.3" y="392.07" width="8.15" height="6.87" fill="#c6d6ea"/>
<rect x="731.4" y="398.97" width="8.15" height="6.87" fill="#d0dcee"/>
<rect x="764" y="398.97" width="8.15" height="6.87" fill="#dde6f2"/>
<rect x="780.3" y="398.97" width="8.15" height="6.87" fill="#d0dcee"/>
<rect x="731.4" y="405.87" width="8.15" height="6.87" fill="#c6d6ea"/>
<rect x="755.8" y="405.87" width="8.15" height="6.87" fill="#e8eff7"/>
<rect x="780.3" y="405.87" width="8.15" height="6.87" fill="#c6d6ea"/>
<rect x="731.4" y="412.67" width="8.15" height="6.87" fill="#c6d6ea"/>
<rect x="747.7" y="412.67" width="8.15" height="6.87" fill="#dde6f2"/>
<rect x="755.8" y="412.67" width="8.15" height="6.87" fill="#e8eff7"/>
<rect x="764" y="412.67" width="8.15" height="6.87" fill="#e8eff7"/>
<rect x="780.3" y="412.67" width="8.15" height="6.87" fill="#c6d6ea"/>
<rect x="723.2" y="419.57" width="8.15" height="6.87" fill="#e8eff7"/>
<rect x="764" y="419.57" width="8.15" height="6.87" fill="#e8eff7"/>
<rect x="723.2" y="426.47" width="8.15" height="6.87" fill="#e8eff7"/>
<rect x="723.2" y="433.37" width="8.15" height="6.87" fill="#c6d6ea"/>
<rect x="731.4" y="433.37" width="8.15" height="6.87" fill="#dde6f2"/>
<rect x="739.5" y="433.37" width="8.15" height="6.87" fill="#8c6bb1"/>
<rect x="755.8" y="433.37" width="8.15" height="6.87" fill="#4d004b"/>
<rect x="764" y="433.37" width="8.15" height="6.87" fill="#98a8d4"/>
<rect x="780.3" y="433.37" width="8.15" height="6.87" fill="#8c8cc6"/>
<rect x="723.2" y="440.17" width="8.15" height="6.87" fill="#b4c8e2"/>
<rect x="723.2" y="447.07" width="8.15" height="6.87" fill="#b4c8e2"/>
<rect x="739.5" y="447.07" width="8.15" height="6.87" fill="#e0e8f4"/>
<rect x="747.7" y="447.07" width="8.15" height="6.87" fill="#8c5cae"/>
<rect x="755.8" y="447.07" width="8.15" height="6.87" fill="#eef3f9"/>
<rect x="764" y="447.07" width="8.15" height="6.87" fill="#d0dcee"/>
<rect x="780.3" y="447.07" width="8.15" height="6.87" fill="#ffffff"/>
<rect x="723.2" y="453.97" width="8.15" height="6.87" fill="#98a8d4"/>
</g>
<g class="g">
<text class="e" x="720.5" y="268">TCF4</text>
<text class="e" x="720.5" y="274.9">TCF3</text>
<text class="e" x="720.5" y="281.7">FOXD2</text>
<text class="e" x="720.5" y="288.6">KLF5</text>
<text class="e" x="720.5" y="295.5">ATF7</text>
<text class="e" x="720.5" y="302.4">RARB</text>
<text class="e" x="720.5" y="309.2">ZKSCAN5</text>
<text class="e" x="720.5" y="316.1">GLIS1</text>
<text class="e" x="720.5" y="323">SNAI1</text>
<text class="e" x="720.5" y="329.8">FOXJ2</text>
<text class="e" x="720.5" y="336.7">KLF3</text>
<text class="e" x="720.5" y="343.6">SP7</text>
<text class="e" x="720.5" y="350.4">SP3</text>
<text class="e" x="720.5" y="357.3">KLF9</text>
<text class="e" x="720.5" y="364.2">KLF6</text>
<text class="e" x="720.5" y="371.1">PITX2</text>
<text class="e" x="720.5" y="377.9">JUNB</text>
<text class="e" x="720.5" y="384.8">SP1</text>
<text class="e" x="720.5" y="391.7">ETV6</text>
<text class="e" x="720.5" y="398.5">MEF2C</text>
<text class="e" x="720.5" y="405.4">TFCP2L1</text>
<text class="e" x="720.5" y="412.3">GSC</text>
<text class="e" x="720.5" y="419.1">TP73</text>
<text class="e" x="720.5" y="426">RARA</text>
<text class="e" x="720.5" y="432.9">NPAS2</text>
<text class="e" x="720.5" y="439.8">MEF2D</text>
<text class="e" x="720.5" y="446.6">BHLHE40</text>
<text class="e" x="720.5" y="453.5">XPA</text>
<text class="e" x="720.5" y="460.4">ARNTL</text>
</g>
<path d="M721,265H723 M721,271.9H723 M721,278.7H723 M721,285.6H723 M721,292.5H723 M721,299.4H723 M721,306.2H723 M721,313.1H723 M721,320H723 M721,326.8H723 M721,333.7H723 M721,340.6H723 M721,347.4H723 M721,354.3H723 M721,361.2H723 M721,368.1H723 M721,374.9H723 M721,381.8H723 M721,388.7H723 M721,395.5H723 M721,402.4H723 M721,409.3H723 M721,416.1H723 M721,423H723 M721,429.9H723 M721,436.8H723 M721,443.6H723 M721,450.5H723 M721,457.4H723 M727.3,461V463 M735.5,461V463 M743.6,461V463 M751.8,461V463 M759.9,461V463 M768.1,461V463 M776.2,461V463 M784.4,461V463" stroke="#333" stroke-width="0.5"/>
<g class="g">
<text class="e" x="730.3" y="464.5" transform="rotate(-90 730.3 464.5)">Shared</text>
<text class="e" x="738.5" y="464.5" transform="rotate(-90 738.5 464.5)">AD</text>
<text class="e" x="746.6" y="464.5" transform="rotate(-90 746.6 464.5)">PiD</text>
<text class="e" x="754.8" y="464.5" transform="rotate(-90 754.8 464.5)">PSP</text>
<text class="e" x="762.9" y="464.5" transform="rotate(-90 762.9 464.5)">Shared</text>
<text class="e" x="771.1" y="464.5" transform="rotate(-90 771.1 464.5)">AD</text>
<text class="e" x="779.2" y="464.5" transform="rotate(-90 779.2 464.5)">PiD</text>
<text class="e" x="787.4" y="464.5" transform="rotate(-90 787.4 464.5)">PSP</text>
</g>
<path d="M722,496.7H753 M757,496.7H789" stroke="#555" stroke-width="0.8"/>
<text class="m g" x="737.5" y="504">Glia</text>
<text class="m g" x="773" y="504">Neuron</text>
<text x="799" y="328">Norm</text>
<text x="799" y="338.5">−log10(FDR)</text>
<rect x="799" y="347" width="6" height="35" fill="url(#gJ)"/>
<path d="M799,349H800.5 M803.5,349H805 M799,359H800.5 M803.5,359H805 M799,369H800.5 M803.5,369H805 M799,380H800.5 M803.5,380H805" stroke="#fff" stroke-width="0.6"/>
<text x="808" y="352">2</text>
<text x="808" y="362">1</text>
<text x="808" y="372">0</text>
<text x="808" y="384">−1</text>
</svg>
</body></html>
